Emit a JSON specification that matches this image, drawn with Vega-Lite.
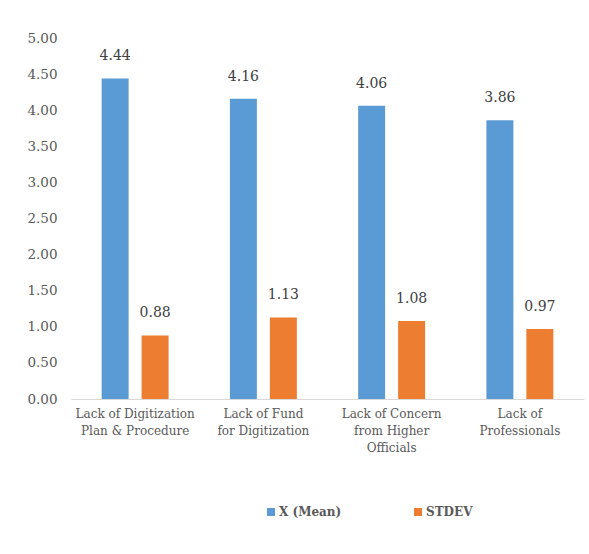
{
  "$schema": "https://vega.github.io/schema/vega-lite/v6.json",
  "autosize": "none",
  "width": 513,
  "height": 361,
  "padding": {"left": 71, "top": 38, "right": 5, "bottom": 155},
  "background": "white",
  "config": {
    "view": {"stroke": null},
    "font": "DejaVu Serif"
  },
  "data": {
    "values": [
      {"category": "Lack of Digitization|Plan & Procedure", "series": "X (Mean)", "value": 4.44},
      {"category": "Lack of Digitization|Plan & Procedure", "series": "STDEV", "value": 0.88},
      {"category": "Lack of Fund|for Digitization", "series": "X (Mean)", "value": 4.16},
      {"category": "Lack of Fund|for Digitization", "series": "STDEV", "value": 1.13},
      {"category": "Lack of Concern|from Higher|Officials", "series": "X (Mean)", "value": 4.06},
      {"category": "Lack of Concern|from Higher|Officials", "series": "STDEV", "value": 1.08},
      {"category": "Lack of|Professionals", "series": "X (Mean)", "value": 3.86},
      {"category": "Lack of|Professionals", "series": "STDEV", "value": 0.97}
    ]
  },
  "encoding": {
    "x": {
      "field": "category",
      "type": "nominal",
      "sort": null,
      "scale": {"paddingInner": 0.478, "paddingOuter": 0.239},
      "axis": {
        "title": null,
        "labelAngle": 0,
        "labelExpr": "split(datum.label, '|')",
        "labelFont": "DejaVu Serif",
        "labelFontSize": 12,
        "labelColor": "#595959",
        "labelLineHeight": 17,
        "labelPadding": 9,
        "ticks": false,
        "domainColor": "#d9d9d9",
        "domainWidth": 1
      }
    },
    "xOffset": {
      "field": "series",
      "type": "nominal",
      "sort": ["X (Mean)", "STDEV"],
      "scale": {"paddingInner": 0.325, "paddingOuter": 0}
    },
    "y": {
      "field": "value",
      "type": "quantitative",
      "scale": {"domain": [0, 5]},
      "axis": {
        "title": null,
        "values": [0, 0.5, 1, 1.5, 2, 2.5, 3, 3.5, 4, 4.5, 5],
        "format": ".2f",
        "grid": false,
        "domain": false,
        "ticks": false,
        "labelFont": "DejaVu Serif",
        "labelFontSize": 13.5,
        "labelColor": "#595959",
        "labelPadding": 14
      }
    }
  },
  "layer": [
    {
      "mark": {"type": "bar"},
      "encoding": {
        "color": {
          "field": "series",
          "type": "nominal",
          "sort": ["X (Mean)", "STDEV"],
          "scale": {"domain": ["X (Mean)", "STDEV"], "range": ["#5B9BD5", "#ED7D31"]},
          "legend": {
            "title": null,
            "orient": "none",
            "direction": "horizontal",
            "legendX": 194,
            "legendY": 468,
            "symbolType": "square",
            "symbolSize": 64,
            "symbolStrokeWidth": 0,
            "labelFont": "DejaVu Serif",
            "labelFontSize": 12,
            "labelFontWeight": "bold",
            "labelColor": "#595959",
            "labelOffset": 2,
            "columnPadding": 70
          }
        }
      }
    },
    {
      "mark": {"type": "text", "baseline": "bottom", "dy": -15, "fontSize": 14, "font": "DejaVu Serif", "color": "#404040"},
      "encoding": {
        "text": {"field": "value", "type": "quantitative", "format": ".2f"}
      }
    }
  ]
}
